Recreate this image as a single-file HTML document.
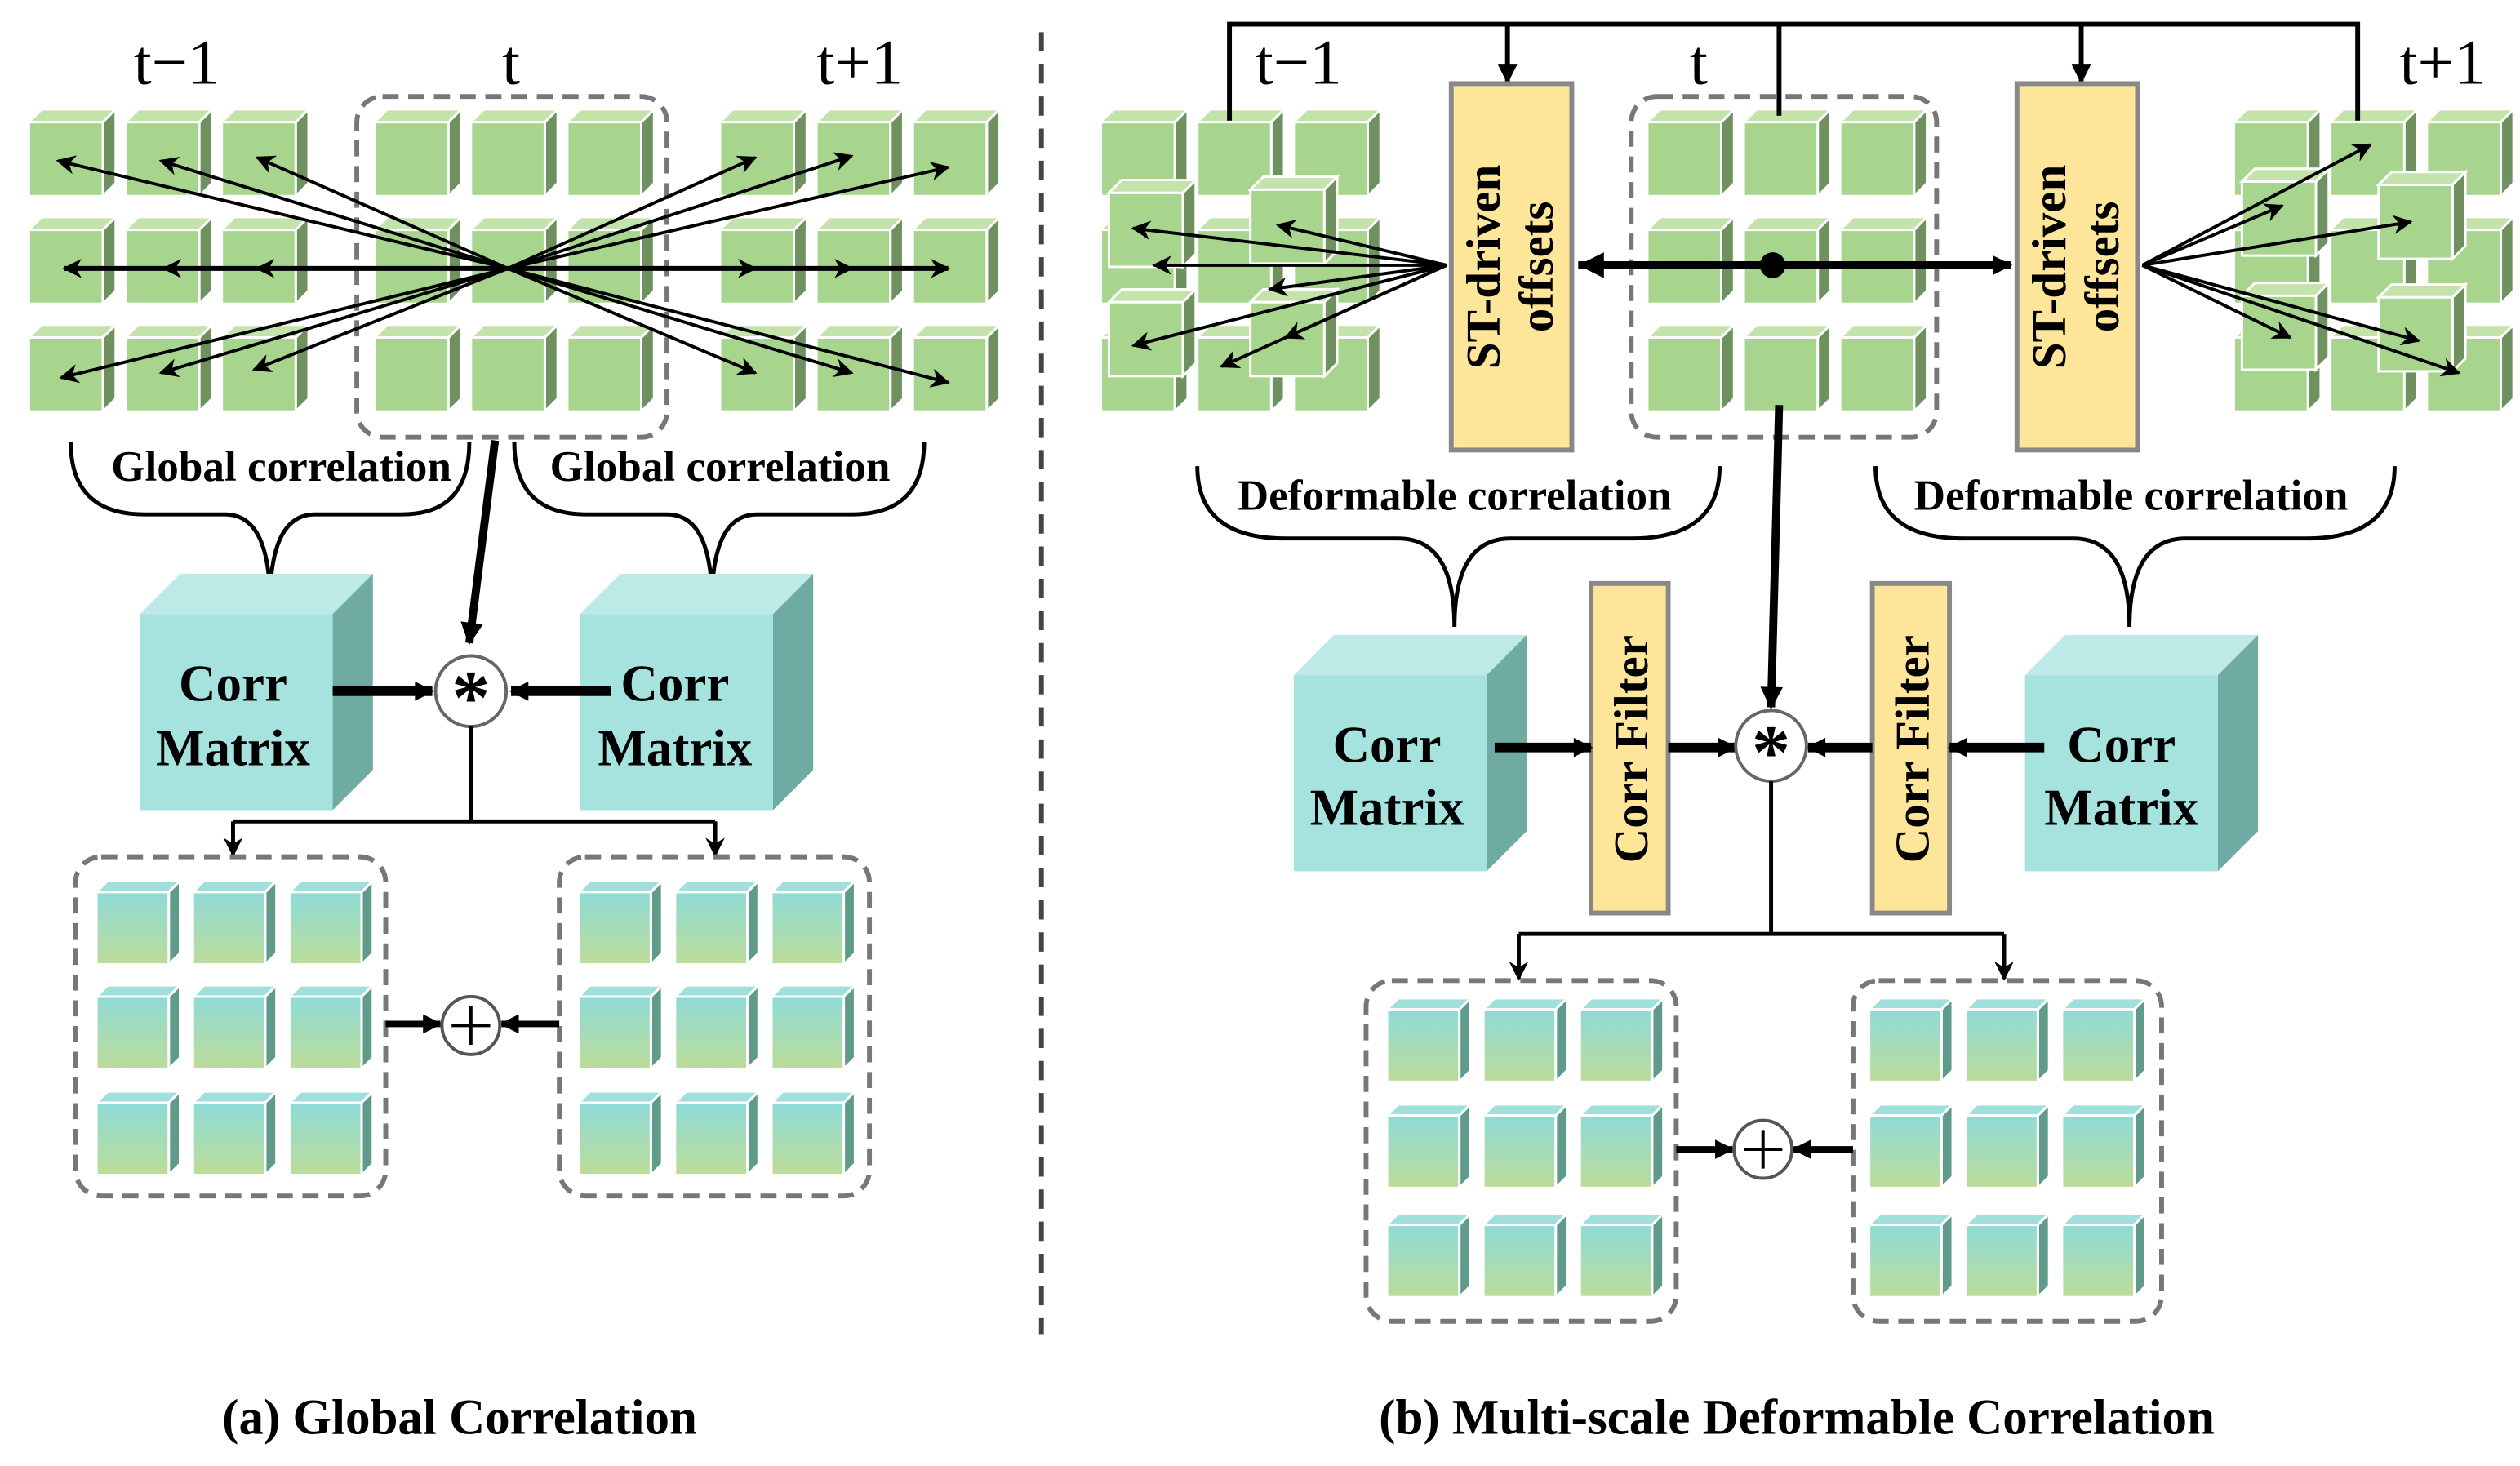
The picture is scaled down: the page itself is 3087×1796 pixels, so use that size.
<!DOCTYPE html>
<html><head><meta charset="utf-8"><style>html,body{margin:0;padding:0;background:#fff}svg{display:block}</style></head><body>
<svg width="3087" height="1796" viewBox="0 0 1568 912" preserveAspectRatio="none" xmlns="http://www.w3.org/2000/svg" font-family="'Liberation Serif', serif">
<defs>
<linearGradient id="bg" x1="0" y1="0" x2="0" y2="1"><stop offset="0" stop-color="#8fdbd8"/><stop offset="1" stop-color="#bcdc98"/></linearGradient>
<symbol id="g" overflow="visible"><polygon points="0,0 8,-8 54,-8 46,0" fill="#c3e3ab" stroke="#fff" stroke-width="1.5"/><polygon points="46,0 54,-8 54,38 46,46" fill="#6f9160" stroke="#fff" stroke-width="1.5"/><rect x="0" y="0" width="46" height="46" fill="#a8d58d" stroke="#fff" stroke-width="1.5"/></symbol>
<symbol id="b" overflow="visible"><polygon points="0,0 7,-7 52,-7 45,0" fill="#9fe0dc" stroke="#fff" stroke-width="1.5"/><polygon points="45,0 52,-7 52,38 45,45" fill="#5f9a8a" stroke="#fff" stroke-width="1.5"/><rect x="0" y="0" width="45" height="45" fill="url(#bg)" stroke="#fff" stroke-width="1.5"/></symbol>
<symbol id="cm" overflow="visible"><polygon points="0,0 25,-25 145,-25 120,0" fill="#bdeae6"/><polygon points="120,0 145,-25 145,97 120,122" fill="#6faaa3"/><rect x="0" y="0" width="120" height="122" fill="#a6e3df"/></symbol>
<marker id="ah" viewBox="0 0 10 10" refX="9" refY="5" markerWidth="16" markerHeight="12" orient="auto" markerUnits="userSpaceOnUse"><path d="M0,0 L10,5 L0,10 L3,5z" fill="#000"/></marker>
<marker id="a2" viewBox="0 0 10 10" refX="9" refY="5" markerWidth="16" markerHeight="14" orient="auto" markerUnits="userSpaceOnUse"><path d="M0,0 L10,5 L0,10z" fill="#000"/></marker>
<marker id="a3" viewBox="0 0 10 10" refX="9" refY="5" markerWidth="14" markerHeight="12" orient="auto" markerUnits="userSpaceOnUse"><path d="M0,0 L10,5 L0,10z" fill="#000"/></marker>
</defs>

<g font-size="40">
<text x="110" y="52" text-anchor="middle">t−1</text><text x="318" y="52" text-anchor="middle">t</text><text x="535" y="52" text-anchor="middle">t+1</text>
</g>
<g>
<use href="#g" x="18" y="76"/><use href="#g" x="78" y="76"/><use href="#g" x="138" y="76"/>
<use href="#g" x="18" y="143"/><use href="#g" x="78" y="143"/><use href="#g" x="138" y="143"/>
<use href="#g" x="18" y="210"/><use href="#g" x="78" y="210"/><use href="#g" x="138" y="210"/>
<use href="#g" x="233" y="76"/><use href="#g" x="293" y="76"/><use href="#g" x="353" y="76"/>
<use href="#g" x="233" y="143"/><use href="#g" x="293" y="143"/><use href="#g" x="353" y="143"/>
<use href="#g" x="233" y="210"/><use href="#g" x="293" y="210"/><use href="#g" x="353" y="210"/>
<use href="#g" x="448" y="76"/><use href="#g" x="508" y="76"/><use href="#g" x="568" y="76"/>
<use href="#g" x="448" y="143"/><use href="#g" x="508" y="143"/><use href="#g" x="568" y="143"/>
<use href="#g" x="448" y="210"/><use href="#g" x="508" y="210"/><use href="#g" x="568" y="210"/>
</g>
<rect x="222" y="60" width="193" height="212" rx="16" fill="none" stroke="#777" stroke-width="3" stroke-dasharray="10,6"/>
<g stroke="#000" stroke-width="2" marker-end="url(#ah)">
<line x1="316" y1="167" x2="36" y2="100"/><line x1="316" y1="167" x2="100" y2="100"/><line x1="316" y1="167" x2="160" y2="98"/>
<line x1="316" y1="167" x2="40" y2="167"/><line x1="316" y1="167" x2="102" y2="167"/><line x1="316" y1="167" x2="160" y2="167"/>
<line x1="316" y1="167" x2="38" y2="235"/><line x1="316" y1="167" x2="100" y2="232"/><line x1="316" y1="167" x2="158" y2="230"/>
<line x1="316" y1="167" x2="470" y2="98"/><line x1="316" y1="167" x2="530" y2="97"/><line x1="316" y1="167" x2="590" y2="104"/>
<line x1="316" y1="167" x2="470" y2="167"/><line x1="316" y1="167" x2="530" y2="167"/><line x1="316" y1="167" x2="590" y2="167"/>
<line x1="316" y1="167" x2="470" y2="232"/><line x1="316" y1="167" x2="530" y2="232"/><line x1="316" y1="167" x2="590" y2="238"/>
</g>
<line x1="40" y1="167" x2="590" y2="167" stroke="#000" stroke-width="3"/>
<g fill="none" stroke="#000" stroke-width="2.5">
<path d="M44,275 Q44,320 90,320 L140,320 Q168,320 168,375 Q168,320 196,320 L250,320 Q292,320 292,275"/>
<path d="M320,275 Q320,320 365,320 L415,320 Q443,320 443,375 Q443,320 471,320 L530,320 Q575,320 575,275"/>
</g>
<g font-size="27" font-weight="bold" text-anchor="middle">
<text x="175" y="299">Global correlation</text><text x="448" y="299">Global correlation</text>
</g>
<line x1="308" y1="274" x2="292" y2="400" stroke="#000" stroke-width="5" marker-end="url(#a2)"/>
<use href="#cm" x="87" y="382"/><use href="#cm" x="361" y="382"/>
<g font-size="32" font-weight="bold" text-anchor="middle">
<text x="145" y="436">Corr</text><text x="145" y="476">Matrix</text>
<text x="420" y="436">Corr</text><text x="420" y="476">Matrix</text>
</g>
<line x1="207" y1="430" x2="269" y2="430" stroke="#000" stroke-width="6" marker-end="url(#a3)"/>
<line x1="380" y1="430" x2="318" y2="430" stroke="#000" stroke-width="6" marker-end="url(#a3)"/>
<circle cx="293" cy="430" r="22" fill="#fff" stroke="#666" stroke-width="2"/>
<text x="293" y="450" font-size="48" font-weight="bold" text-anchor="middle">*</text>
<g stroke="#000" stroke-width="2.5" fill="none">
<line x1="293" y1="452" x2="293" y2="511"/><line x1="145" y1="511" x2="445" y2="511"/>
<line x1="145" y1="511" x2="145" y2="532" marker-end="url(#ah)"/><line x1="445" y1="511" x2="445" y2="532" marker-end="url(#ah)"/>
</g>
<g>
<use href="#b" x="60" y="555"/><use href="#b" x="120" y="555"/><use href="#b" x="180" y="555"/>
<use href="#b" x="60" y="620"/><use href="#b" x="120" y="620"/><use href="#b" x="180" y="620"/>
<use href="#b" x="60" y="686"/><use href="#b" x="120" y="686"/><use href="#b" x="180" y="686"/>
<use href="#b" x="360" y="555"/><use href="#b" x="420" y="555"/><use href="#b" x="480" y="555"/>
<use href="#b" x="360" y="620"/><use href="#b" x="420" y="620"/><use href="#b" x="480" y="620"/>
<use href="#b" x="360" y="686"/><use href="#b" x="420" y="686"/><use href="#b" x="480" y="686"/>
</g>
<rect x="47" y="533" width="193" height="211" rx="16" fill="none" stroke="#777" stroke-width="3" stroke-dasharray="10,6"/>
<rect x="348" y="533" width="193" height="211" rx="16" fill="none" stroke="#777" stroke-width="3" stroke-dasharray="10,6"/>
<line x1="240" y1="637" x2="274" y2="637" stroke="#000" stroke-width="4" marker-end="url(#a3)"/>
<line x1="348" y1="637" x2="312" y2="637" stroke="#000" stroke-width="4" marker-end="url(#a3)"/>
<circle cx="293" cy="638" r="18" fill="#fff" stroke="#555" stroke-width="2"/>
<line x1="281" y1="638" x2="305" y2="638" stroke="#000" stroke-width="2"/><line x1="293" y1="626" x2="293" y2="650" stroke="#000" stroke-width="2"/>
<text x="286" y="892" font-size="31" font-weight="bold" text-anchor="middle">(a) Global Correlation</text>

<line x1="648" y1="20" x2="648" y2="830" stroke="#444" stroke-width="3" stroke-dasharray="12,8"/>

<g font-size="40">
<text x="808" y="52" text-anchor="middle">t−1</text><text x="1057" y="52" text-anchor="middle">t</text><text x="1520" y="52" text-anchor="middle">t+1</text>
</g>
<g>
<use href="#g" x="685" y="76"/><use href="#g" x="745" y="76"/><use href="#g" x="805" y="76"/>
<use href="#g" x="685" y="143"/><use href="#g" x="745" y="143"/><use href="#g" x="805" y="143"/>
<use href="#g" x="685" y="210"/><use href="#g" x="745" y="210"/><use href="#g" x="805" y="210"/>
<use href="#g" x="690" y="120"/><use href="#g" x="778" y="118"/><use href="#g" x="690" y="188"/><use href="#g" x="778" y="188"/>
<use href="#g" x="1025" y="76"/><use href="#g" x="1085" y="76"/><use href="#g" x="1145" y="76"/>
<use href="#g" x="1025" y="143"/><use href="#g" x="1085" y="143"/><use href="#g" x="1145" y="143"/>
<use href="#g" x="1025" y="210"/><use href="#g" x="1085" y="210"/><use href="#g" x="1145" y="210"/>
<use href="#g" x="1390" y="76"/><use href="#g" x="1450" y="76"/><use href="#g" x="1510" y="76"/>
<use href="#g" x="1390" y="143"/><use href="#g" x="1450" y="143"/><use href="#g" x="1510" y="143"/>
<use href="#g" x="1390" y="210"/><use href="#g" x="1450" y="210"/><use href="#g" x="1510" y="210"/>
<use href="#g" x="1395" y="113"/><use href="#g" x="1480" y="115"/><use href="#g" x="1395" y="184"/><use href="#g" x="1480" y="185"/>
</g>
<rect x="1015" y="60" width="190" height="212" rx="16" fill="none" stroke="#777" stroke-width="3" stroke-dasharray="10,6"/>
<g stroke="#000" stroke-width="3" fill="none">
<polyline points="765,75 765,15 1467,15 1467,75"/><line x1="1107" y1="15" x2="1107" y2="72"/>
<line x1="938" y1="15" x2="938" y2="51" marker-end="url(#a3)"/><line x1="1295" y1="15" x2="1295" y2="51" marker-end="url(#a3)"/>
</g>
<rect x="903" y="52" width="75" height="228" fill="#fde59a" stroke="#888" stroke-width="3"/>
<rect x="1255" y="52" width="75" height="228" fill="#fde59a" stroke="#888" stroke-width="3"/>
<g font-size="30" font-weight="bold" text-anchor="middle">
<text transform="translate(933,166) rotate(-90)">ST-driven</text><text transform="translate(966,166) rotate(-90)">offsets</text>
<text transform="translate(1285,166) rotate(-90)">ST-driven</text><text transform="translate(1318,166) rotate(-90)">offsets</text>
</g>
<g stroke="#000" stroke-width="2" marker-end="url(#ah)">
<line x1="900" y1="165" x2="705" y2="142"/><line x1="900" y1="165" x2="795" y2="140"/><line x1="900" y1="165" x2="705" y2="215"/><line x1="900" y1="165" x2="800" y2="210"/>
<line x1="900" y1="165" x2="718" y2="165"/><line x1="900" y1="165" x2="790" y2="180"/><line x1="900" y1="165" x2="760" y2="228"/>
<line x1="1333" y1="165" x2="1420" y2="128"/><line x1="1333" y1="165" x2="1500" y2="138"/><line x1="1333" y1="165" x2="1425" y2="210"/><line x1="1333" y1="165" x2="1505" y2="212"/>
<line x1="1333" y1="165" x2="1475" y2="90"/><line x1="1333" y1="165" x2="1530" y2="232"/>
</g>
<line x1="982" y1="165" x2="1251" y2="165" stroke="#000" stroke-width="5" marker-end="url(#a3)"/>
<path d="M998,157 L982,165 L998,173z" fill="#000"/>
<circle cx="1103" cy="165" r="8" fill="#000"/>
<g fill="none" stroke="#000" stroke-width="2.5">
<path d="M745,290 Q745,335 800,335 L870,335 Q905,335 905,390 Q905,335 940,335 L1015,335 Q1070,335 1070,290"/>
<path d="M1167,290 Q1167,335 1222,335 L1290,335 Q1325,335 1325,390 Q1325,335 1360,335 L1435,335 Q1490,335 1490,290"/>
</g>
<g font-size="27" font-weight="bold" text-anchor="middle">
<text x="905" y="317">Deformable correlation</text><text x="1326" y="317">Deformable correlation</text>
</g>
<line x1="1107" y1="252" x2="1102" y2="440" stroke="#000" stroke-width="5" marker-end="url(#a2)"/>
<use href="#cm" x="805" y="420"/><use href="#cm" x="1260" y="420"/>
<g font-size="32" font-weight="bold" text-anchor="middle">
<text x="863" y="474">Corr</text><text x="863" y="513">Matrix</text>
<text x="1320" y="474">Corr</text><text x="1320" y="513">Matrix</text>
</g>
<rect x="990" y="363" width="48" height="205" fill="#fde59a" stroke="#888" stroke-width="3"/>
<rect x="1165" y="363" width="48" height="205" fill="#fde59a" stroke="#888" stroke-width="3"/>
<g font-size="30" font-weight="bold" text-anchor="middle">
<text transform="translate(1025,466) rotate(-90)">Corr Filter</text><text transform="translate(1200,466) rotate(-90)">Corr Filter</text>
</g>
<g stroke="#000" stroke-width="6">
<line x1="930" y1="465" x2="990" y2="465" marker-end="url(#a3)"/><line x1="1038" y1="465" x2="1080" y2="465" marker-end="url(#a3)"/>
<line x1="1272" y1="465" x2="1213" y2="465" marker-end="url(#a3)"/><line x1="1165" y1="465" x2="1125" y2="465" marker-end="url(#a3)"/>
</g>
<circle cx="1102" cy="464" r="22" fill="#fff" stroke="#666" stroke-width="2"/>
<text x="1102" y="484" font-size="48" font-weight="bold" text-anchor="middle">*</text>
<g stroke="#000" stroke-width="2.5" fill="none">
<line x1="1102" y1="486" x2="1102" y2="581"/><line x1="945" y1="581" x2="1247" y2="581"/>
<line x1="945" y1="581" x2="945" y2="609" marker-end="url(#ah)"/><line x1="1247" y1="581" x2="1247" y2="609" marker-end="url(#ah)"/>
</g>
<g>
<use href="#b" x="863" y="628"/><use href="#b" x="923" y="628"/><use href="#b" x="983" y="628"/>
<use href="#b" x="863" y="694"/><use href="#b" x="923" y="694"/><use href="#b" x="983" y="694"/>
<use href="#b" x="863" y="762"/><use href="#b" x="923" y="762"/><use href="#b" x="983" y="762"/>
<use href="#b" x="1163" y="628"/><use href="#b" x="1223" y="628"/><use href="#b" x="1283" y="628"/>
<use href="#b" x="1163" y="694"/><use href="#b" x="1223" y="694"/><use href="#b" x="1283" y="694"/>
<use href="#b" x="1163" y="762"/><use href="#b" x="1223" y="762"/><use href="#b" x="1283" y="762"/>
</g>
<rect x="850" y="610" width="193" height="212" rx="16" fill="none" stroke="#777" stroke-width="3" stroke-dasharray="10,6"/>
<rect x="1153" y="610" width="192" height="212" rx="16" fill="none" stroke="#777" stroke-width="3" stroke-dasharray="10,6"/>
<line x1="1043" y1="715" x2="1078" y2="715" stroke="#000" stroke-width="4" marker-end="url(#a3)"/>
<line x1="1153" y1="715" x2="1116" y2="715" stroke="#000" stroke-width="4" marker-end="url(#a3)"/>
<circle cx="1097" cy="715" r="18" fill="#fff" stroke="#555" stroke-width="2"/>
<line x1="1085" y1="715" x2="1109" y2="715" stroke="#000" stroke-width="2"/><line x1="1097" y1="703" x2="1097" y2="727" stroke="#000" stroke-width="2"/>
<text x="1118" y="892" font-size="31" font-weight="bold" text-anchor="middle">(b) Multi-scale Deformable Correlation</text>
</svg>
</body></html>
